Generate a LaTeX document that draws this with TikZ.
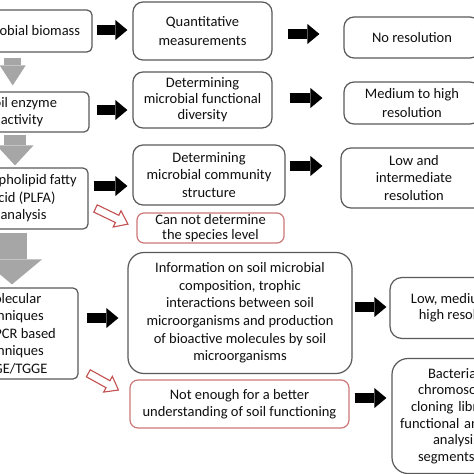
\documentclass[tikz,border=0pt]{standalone}
\usepackage{fontspec}
\setmainfont{Carlito}
\usetikzlibrary{arrows.meta,calc}
\definecolor{boxgray}{RGB}{90,90,90}
\definecolor{boxred}{RGB}{205,120,120}
\definecolor{arrred}{RGB}{195,80,80}
\definecolor{arrgray}{RGB}{166,166,166}
\definecolor{txt}{RGB}{15,15,15}
\begin{document}
\begin{tikzpicture}[x=1pt,y=-1pt,
  font=\fontsize{14.5}{17.6}\selectfont,
  box/.style={draw=boxgray, line width=1.2pt, rounded corners=#1, align=center,
    inner sep=0pt, text=txt},
  box/.default=10pt,
  redbox/.style={box=#1, draw=boxred},
  redbox/.default=7pt,
  tight/.style={font=\fontsize{14.5}{16}\selectfont},
  barrow/.style={line width=10pt, draw=black,
    -{Triangle[length=12pt,width=20pt,line width=0pt]}},
  garrow/.style n args={3}{line width=#1pt, draw=arrgray,
    -{Triangle[length=#3pt,width=#2pt,line width=0pt]}},
  hollow/.style={draw=arrred, line width=1.1pt, fill=white, line join=miter}
]
\useasboundingbox (0,0) rectangle (474,474);
\clip (0,0) rectangle (474,474);
\fill[white] (0,0) rectangle (474,474);

% left column
\node[box=5pt, minimum width=131pt, minimum height=42pt] (A) at (26.5,31) {Microbial biomass};
\node[box=5pt, minimum width=134pt, minimum height=40pt] (B) at (22,112) {Soil enzyme\\activity};
\node[box=5pt, minimum width=129pt, minimum height=61pt] (C) at (23.5,198.5) {Phospholipid fatty\\acid (PLFA)\\analysis};
\node[box=5pt, minimum width=133pt, minimum height=91pt] (D) at (11.5,333.5) {Molecular\\techniques\\non-PCR based\\techniques\\DGGE/TGGE};

% middle column
\node[box, minimum width=139pt, minimum height=58pt, font=\fontsize{14.5}{18.5}\selectfont] (E) at (202.5,31) {Quantitative\\measurements};
\node[box, tight, minimum width=139pt, minimum height=56pt] (F) at (202.5,100) {Determining\\microbial functional\\diversity};
\node[box, minimum width=152pt, minimum height=60pt] (G) at (209,175) {Determining\\microbial community\\structure};
\node[redbox, font=\fontsize{14.5}{15.5}\selectfont, minimum width=147pt, minimum height=30pt] (H) at (210.5,228) {Can not determine\\the species level};
\node[box=16pt, minimum width=224pt, minimum height=121pt] (I) at (240,313) {Information on soil microbial\\composition, trophic\\interactions between soil\\microorganisms and production\\of bioactive molecules by soil\\microorganisms};
\node[redbox=8pt, font=\fontsize{14.5}{17}\selectfont, minimum width=219pt, minimum height=48pt] (J) at (239.5,404) {Not enough for a better\\understanding of soil functioning};

% right column
\node[box, minimum width=136pt, minimum height=41pt] (K) at (412,37.5) {No resolution};
\node[box, minimum width=136pt, minimum height=42pt, font=\fontsize{14.5}{19}\selectfont] (L) at (412,103) {Medium to high\\resolution};
\node[box, minimum width=146pt, minimum height=60pt] (M) at (414,178) {Low and\\intermediate\\resolution};
\node[box=12pt, tight, minimum width=146pt, minimum height=61pt] (N) at (463,308) {Low, medium and\\high resolution};
\node[box=16pt, align=left, text width=176pt, minimum height=115pt, font=\fontsize{14.5}{16.6}\selectfont] (O) at (480,416)
  {\hspace*{36pt}Bacterial artificial\\\hspace*{26pt}chromosome (BAC)\\\hspace*{19pt}cloning library for\\\hspace*{8pt}functional and sequence\\\hspace*{41pt}analysis of large\\\hspace*{26pt}segments of DNA};

% gray down arrows
\draw[garrow={17}{26}{20}, shorten <=5pt, shorten >=6pt] (A.south -| 12.7,0) -- (B.north -| 12.7,0);
\draw[garrow={22}{37}{20}, shorten <=2pt, shorten >=2pt] (B.south -| 15,0) -- (C.north -| 15,0);
\draw[garrow={30}{60}{25}, shorten <=3pt, shorten >=3pt] (C.south -| 12,0) -- (D.north -| 12,0);

% black arrows
\draw[barrow, shorten <=4pt, shorten >=5pt] (A.east |- 0,30) -- (E.west |- 0,30);
\draw[barrow, shorten <=7pt, shorten >=5pt] (B.east |- 0,110) -- (F.west |- 0,110);
\draw[barrow, shorten <=5pt, shorten >=5pt] (C.east |- 0,186) -- (G.west |- 0,186);
\draw[barrow, shorten <=8pt, shorten >=9pt] (D.east |- 0,318) -- (I.west |- 0,318);
\draw[barrow, shorten <=15pt, shorten >=24pt] (E.east |- 0,34) -- (K.west |- 0,34);
\draw[barrow, shorten <=17pt, shorten >=21pt] (F.east |- 0,98) -- (L.west |- 0,98);
\draw[barrow, shorten <=4pt, shorten >=18pt] (G.east |- 0,166) -- (M.west |- 0,166);
\draw[barrow, shorten <=2pt, shorten >=3pt] (I.east |- 0,307) -- (N.west |- 0,307);
\draw[barrow, shorten <=5pt, shorten >=5pt] (J.east |- 0,398) -- (O.west |- 0,398);

% red hollow arrows
\begin{scope}[shift={(95.5,208.5)}, rotate=-25.7]
  \draw[hollow] (0,-4) -- (24,-4) -- (24,-9) -- (36,0) -- (24,9) -- (24,4) -- (0,4) -- cycle;
\end{scope}
\begin{scope}[shift={(88.3,373.3)}, rotate=-29]
  \draw[hollow] (0,-4) -- (22.5,-4) -- (22.5,-9) -- (34.5,0) -- (22.5,9) -- (22.5,4) -- (0,4) -- cycle;
\end{scope}
\end{tikzpicture}
\end{document}
